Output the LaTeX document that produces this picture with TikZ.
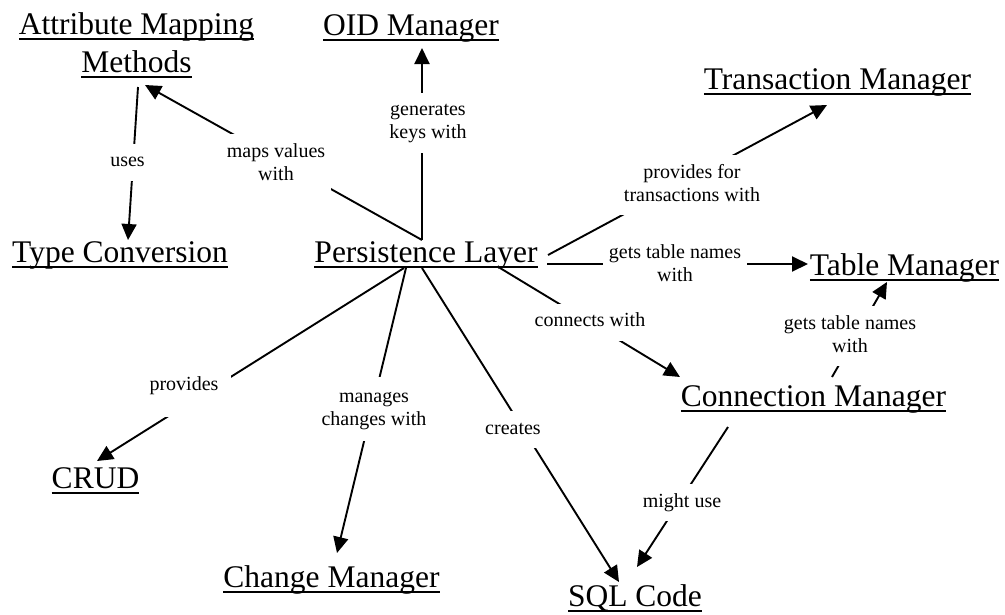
\documentclass[tikz,border=0pt]{standalone}
\usepackage{fontspec}
\setmainfont{Liberation Serif}
\usetikzlibrary{arrows.meta}
% underlined concept text: a rule under the box, drawn first, then the text
\newsavebox\ulinebox
\newcommand\ulined[1]{\sbox\ulinebox{#1}\rlap{\rule[-5.6pt]{\wd\ulinebox}{2pt}}\usebox\ulinebox}
\begin{document}
\begin{tikzpicture}[x=1pt,y=-1pt,
  concept/.style={inner sep=0pt, font=\fontsize{31.5}{38}\selectfont},
  linkphrase/.style={fill=white, inner xsep=6pt, inner ysep=7pt,
    font=\fontsize{20}{23}\selectfont, align=center},
  arrowlink/.style={line width=1.9pt, -{Triangle[length=16pt,width=15pt]}}]
\useasboundingbox (0,0) rectangle (1005,614);

% concepts
\node[concept, align=center, anchor=south] (amm) at (136.5,78.6)
  {\ulined{Attribute Mapping}\\\ulined{Methods}};
\node[concept, anchor=base] (oid)  at (411,35)    {\ulined{OID Manager}};
\node[concept, anchor=base] (tm)   at (837.5,89)  {\ulined{Transaction Manager}};
\node[concept, anchor=base] (tc)   at (120,262)   {\ulined{Type Conversion}};
\node[concept, anchor=base] (pl)   at (426,262)   {\ulined{Persistence Layer}};
\node[concept, anchor=base] (tab)  at (904.5,275) {\ulined{Table Manager}};
\node[concept, anchor=base] (con)  at (813.5,406.5) {\ulined{Connection Manager}};
\node[concept, anchor=base] (crud) at (95.5,488.5) {\ulined{CRUD}};
\node[concept, anchor=base] (chg)  at (331.5,587) {\ulined{Change Manager}};
\node[concept, anchor=base] (sql)  at (635,606)   {\ulined{SQL Code}};

% connectors
\draw[arrowlink] ([xshift=1.5pt,yshift=-8.4pt]amm.south) -- ([xshift=8pt,yshift=22pt]tc.base);
\draw[arrowlink] ([xshift=-4pt,yshift=22pt]pl.base) -- ([xshift=8.5pt,yshift=-6.4pt]amm.south);
\draw[arrowlink] ([xshift=-4pt,yshift=22pt]pl.base) -- ([xshift=11pt,yshift=-13pt]oid.base);
\draw[arrowlink] ([xshift=122pt,yshift=7pt]pl.base) -- ([xshift=-10.5pt,yshift=-16pt]tm.base);
\draw[arrowlink] ([xshift=121pt,yshift=-2pt]pl.base) -- ([xshift=-96.5pt,yshift=11pt]tab.base);
\draw[arrowlink] ([xshift=74pt,yshift=-6pt]pl.base) -- ([xshift=-133.5pt,yshift=29.5pt]con.base);
\draw[arrowlink] ([xshift=18.5pt,yshift=29.5pt]con.base) -- ([xshift=-17.5pt,yshift=-7pt]tab.base);
\draw[arrowlink] ([xshift=-85.5pt,yshift=-20.5pt]con.base) -- ([xshift=2pt,yshift=39pt]sql.base);
\draw[arrowlink] ([xshift=-4pt,yshift=-6pt]pl.base) -- ([xshift=-16pt,yshift=24pt]sql.base);
\draw[arrowlink] ([xshift=-22pt,yshift=-6pt]pl.base) -- ([xshift=1.5pt,yshift=27.5pt]crud.base);
\draw[arrowlink] ([xshift=-20pt,yshift=-6pt]pl.base) -- ([xshift=5.5pt,yshift=34pt]chg.base);

% linking phrases, laid over their connectors
\node[linkphrase] (l-uses)  at (127.5,162) {\strut uses};
\node[linkphrase] (l-maps)  at (276,164)   {\strut maps values\\\strut with};
\node[linkphrase] (l-gen)   at (428,122.5) {\strut generates\\\strut keys with};
\node[linkphrase] (l-trans) at (692,185)   {\strut provides for\\\strut transactions with};
\node[linkphrase] (l-tab1)  at (675,265.5) {\strut gets table names\\\strut with};
\node[linkphrase] (l-conn)  at (590,322)   {\strut connects with};
\node[linkphrase] (l-tab2)  at (850,336)   {\strut gets table names\\\strut with};
\node[linkphrase] (l-might) at (682,502.5) {\strut might use};
\node[linkphrase] (l-creat) at (513,429.5) {\strut creates};
\node[linkphrase, inner xsep=13pt, inner ysep=19pt] (l-prov) at (184,386) {\strut provides};
\node[linkphrase, inner ysep=9pt] (l-manag) at (374,409) {\strut manages\\\strut changes with};
\end{tikzpicture}
\end{document}
